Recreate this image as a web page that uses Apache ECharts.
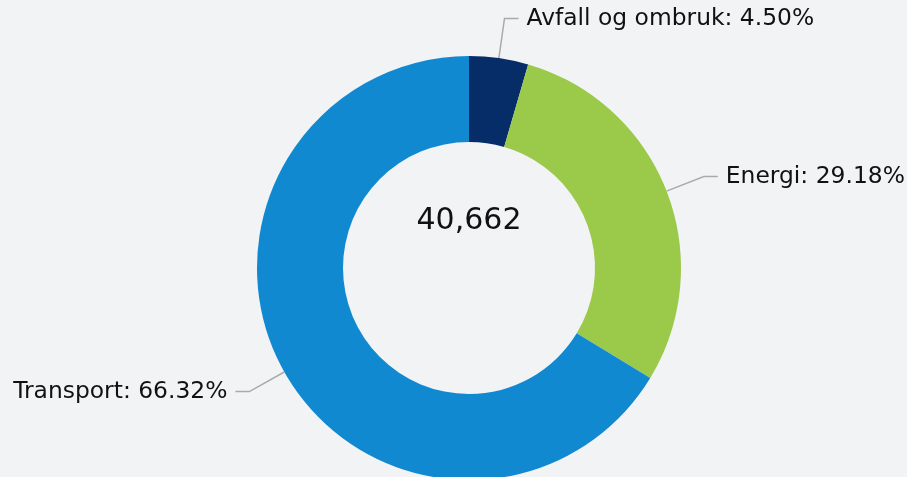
<!DOCTYPE html>
<html>
<head>
<meta charset="utf-8">
<script src="https://cdn.jsdelivr.net/npm/echarts@6/dist/echarts.min.js"></script>
<style>
html,body{margin:0;padding:0;background:#f2f3f5;}
#chart{width:907px;height:477px;}
</style>
</head>
<body>
<div id="chart"></div>
<script>
const categories = ['Avfall og ombruk', 'Energi', 'Transport'];
const values = [1830, 11865, 26967];
const colors = ['#072d69', '#9bc94a', '#1189d1'];

const total = values.reduce((a, b) => a + b, 0);
const chart = echarts.init(document.getElementById('chart'));
chart.setOption({
  backgroundColor: '#f2f3f5',
  animation: false,
  graphic: [{
    type: 'text',
    x: 469,
    y: 221,
    style: {
      text: total.toLocaleString('en-US'),
      fontFamily: 'DejaVu Sans',
      fontSize: 30,
      fill: '#111',
      align: 'center',
      verticalAlign: 'middle'
    }
  }],
  series: [{
    type: 'pie',
    center: [469, 268],
    radius: [126, 212],
    startAngle: 90,
    clockwise: true,
    avoidLabelOverlap: false,
    data: categories.map((c, i) => ({ name: c, value: values[i], itemStyle: { color: colors[i] } })),
    label: {
      show: true,
      position: 'outside',
      fontFamily: 'DejaVu Sans',
      fontSize: 23.4,
      color: '#111',
      distanceToLabelLine: 8,
      formatter: p => p.name + ': ' + (p.value / total * 100).toFixed(2) + '%'
    },
    labelLine: {
      show: true,
      length: 40,
      length2: 14,
      smooth: false,
      lineStyle: { color: '#aaaaaa', width: 1.5 }
    }
  }]
});
</script>
</body>
</html>
